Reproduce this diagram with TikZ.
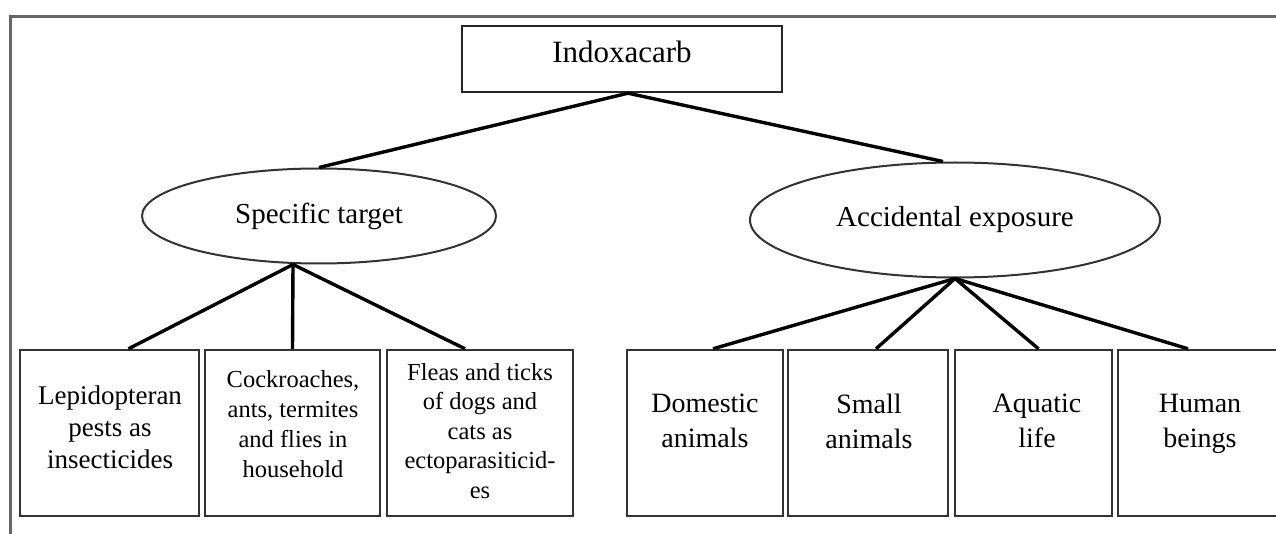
\documentclass[tikz,border=0pt]{standalone}
\usepackage{fontspec}
\setmainfont{Liberation Serif}
\usetikzlibrary{shapes.geometric}

\begin{document}
\begin{tikzpicture}[x=1pt, y=-1pt,
    root/.style={rectangle, draw=black!85, line width=2.4pt, minimum width=320, minimum height=66, font=\fontsize{31}{36}\selectfont, text height=22, text depth=14},
    group/.style={ellipse, draw=black!80, line width=2pt, font=\fontsize{29}{34}\selectfont},
    leaf/.style={rectangle, draw=black!80, line width=2.4pt, minimum height=166, minimum width=#1},
    leaftext/.style={align=center, inner sep=0pt},
    link/.style={black, line width=3.4pt}
]
\useasboundingbox (0,0) rectangle (1276,534);

% Frame (only top and left sides show)
\draw[black!60, line width=3pt] (10,545) -- (10,17) -- (1290,17);

% Root and the two groups
\node[root] (indox) at (622,59) {Indoxacarb};
\node[group, minimum width=354, minimum height=95] (spec) at (319,216) {Specific target};
\node[group, minimum width=410, minimum height=115] (accid) at (955,220) {Accidental exposure};
\coordinate (indoxj) at ([xshift=6]indox.south);
\draw[link] (indoxj) -- (spec.north);
\draw[link] (indoxj) -- ([xshift=-12]accid.north);

% Specific target (left)
\node[leaf=179] (lepi) at (109.5,433) {};
\node[leaf=175] (cock) at (292.5,433) {};
\node[leaf=186] (flea) at (480,433) {};
\node[leaftext, font=\fontsize{27}{32}\selectfont] (lepit) at (110,427) {Lepidopteran\\pests as\\insecticides};
\node[leaftext, font=\fontsize{24.5}{30}\selectfont] (cockt) at (293,424) {Cockroaches,\\ants, termites\\and flies in\\household};
\node[leaftext, font=\fontsize{24.5}{29.5}\selectfont] (fleat) at (480,431) {Fleas and ticks\\of dogs and\\cats as\\ectoparasiticid-\\es};
\coordinate (specj) at ([xshift=-26]spec.south);
\foreach \leaf/\dx in {lepi/19, cock/0, flea/-15}
    \draw[link] (specj) -- ([xshift=\dx]\leaf.north);

% Accidental exposure (right)
\node[leaf=156] (dome) at (705,433) {};
\node[leaf=160] (small) at (868,433) {};
\node[leaf=157] (aqua) at (1033.5,433) {};
\node[leaf=164] (human) at (1200,433) {};
\foreach \leaf/\txt/\tx/\ty in {dome/{Domestic\\animals}/705/421, small/{Small\\animals}/869/421, aqua/{Aquatic\\life}/1037/421, human/{Human\\beings}/1200/424}
    \node[leaftext, font=\fontsize{28}{35}\selectfont] (\leaf t) at (\tx,\ty) {\txt};
\foreach \leaf/\dx in {dome/8, small/8, aqua/5, human/-12}
    \draw[link] (accid.south) -- ([xshift=\dx]\leaf.north);

\end{tikzpicture}
\end{document}
